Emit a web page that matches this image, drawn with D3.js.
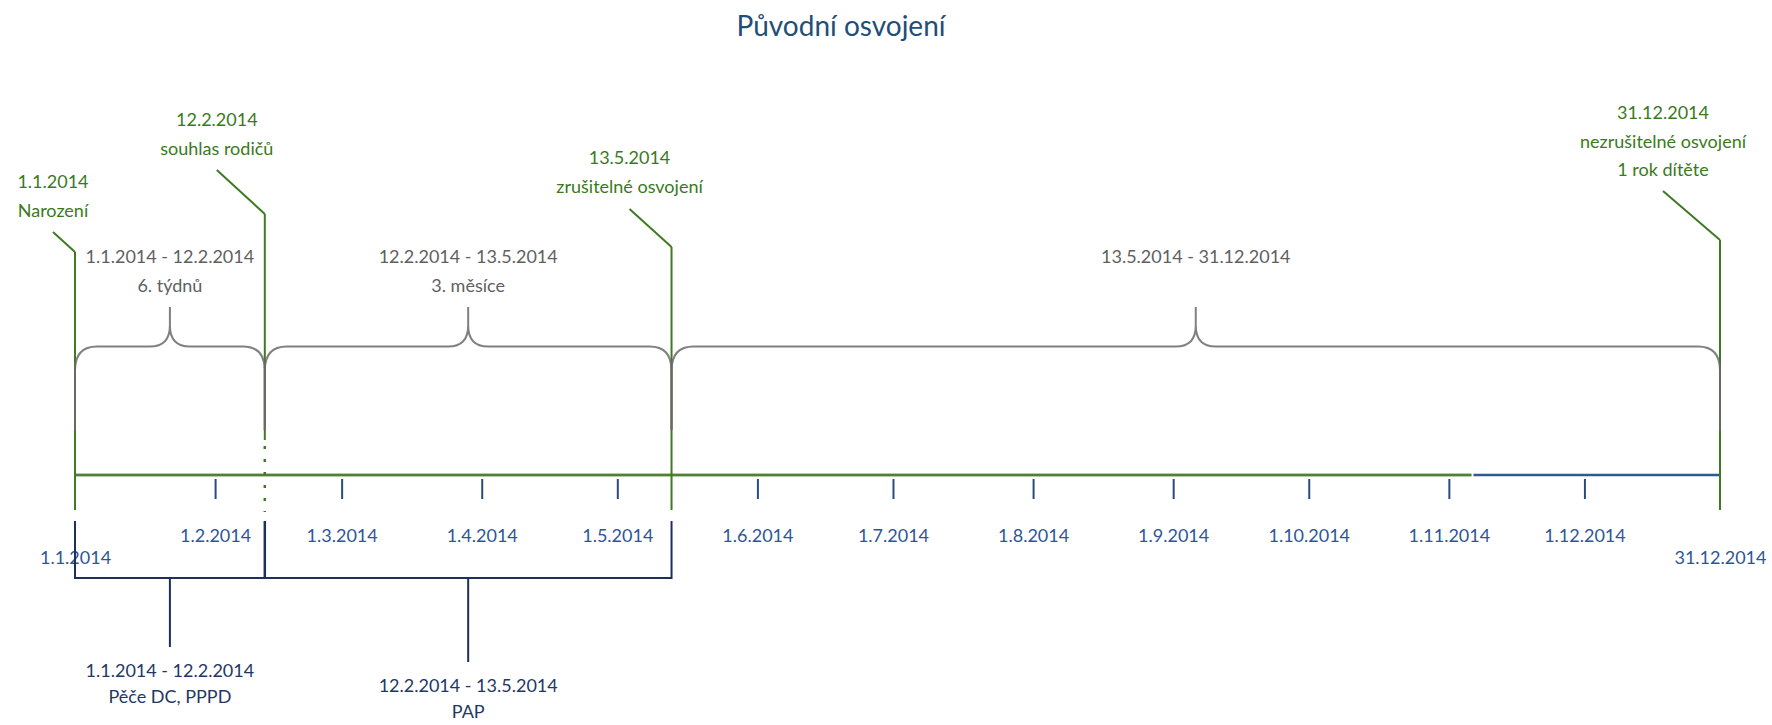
<!DOCTYPE html>
<html>
<head>
<meta charset="utf-8">
<script src="https://cdn.jsdelivr.net/npm/d3@7"></script>
<style>
  body { margin: 0; background: #fff; }
  text { font-family: Lato, "Noto Sans", sans-serif; }
</style>
</head>
<body>
<div id="chart"></div>
<script>
// dates of the events on the time line
var eventDates = ["2014-01-01", "2014-02-12", "2014-05-13", "2014-12-31"];
var eventLabels = [
    ["1.1.2014", "Narození"],
    ["12.2.2014", "souhlas rodičů"],
    ["13.5.2014", "zrušitelné osvojení"],
    ["31.12.2014", "nezrušitelné osvojení", "1 rok dítěte"]
];

// periods above the line (between consecutive events)
var periodLabels = [
    ["1.1.2014 - 12.2.2014", "6. týdnů"],
    ["12.2.2014 - 13.5.2014", "3. měsíce"],
    ["13.5.2014 - 31.12.2014", ""]
];

// periods below the line
var lowerPeriods = [
    ["2014-01-01", "2014-02-12"],
    ["2014-02-12", "2014-05-13"]
];
var lowerLabels = [
    ["1.1.2014 - 12.2.2014", "Pěče DC, PPPD"],
    ["12.2.2014 - 13.5.2014", "PAP"]
];

// month ticks
var tickDates = ["2014-02-01", "2014-03-01", "2014-04-01", "2014-05-01", "2014-06-01", "2014-07-01",
    "2014-08-01", "2014-09-01", "2014-10-01", "2014-11-01", "2014-12-01"];
var tickLabels = ["1.2.2014", "1.3.2014", "1.4.2014", "1.5.2014", "1.6.2014", "1.7.2014",
    "1.8.2014", "1.9.2014", "1.10.2014", "1.11.2014", "1.12.2014"];
var endLabels = ["1.1.2014", "31.12.2014"];

// the line changes from green to blue here
var greenEndDate = "2014-11-06";

var parse = d3.utcParse("%Y-%m-%d");

var width = 1772,
    height = 725;

// label placement for each event (layout only)
var eventLayout = [
    { dx: -22, y: 182, leaderY: 232, topY: 252 },
    { dx: -48, y: 120, leaderY: 170, topY: 214 },
    { dx: -42, y: 158, leaderY: 209, topY: 247 },
    { dx: -57, y: 113, leaderY: 191, topY: 240 }
];

var lineY = 475,
    braceY = 346.5,
    braceTipY = 307,
    lineGap = 28.5;

var green = "#3f7a22",
    labelGreen = "#3a7a1c",
    gray = "#6a6a6a",
    navy = "#1f2f5c",
    blue = "#2e5a8e";

var x = d3.scaleUtc()
    .domain([parse(eventDates[0]), parse(eventDates[eventDates.length - 1])])
    .range([75, 1720]);

var svg = d3.select("#chart").append("svg")
    .attr("width", width)
    .attr("height", height);

// title
svg.append("text")
    .attr("x", 841)
    .attr("y", 36)
    .attr("text-anchor", "middle")
    .attr("fill", "#1f4e79")
    .style("font-size", "28px")
    .text("Původní osvojení");

// main time line
var x0 = x(parse(eventDates[0])),
    xg = x(parse(greenEndDate)),
    x1 = x(parse(eventDates[eventDates.length - 1]));

svg.append("line")
    .attr("x1", x0).attr("x2", xg)
    .attr("y1", lineY).attr("y2", lineY)
    .attr("stroke", "#b5d0a6").attr("stroke-width", 4);
svg.append("line")
    .attr("x1", x0).attr("x2", xg)
    .attr("y1", lineY).attr("y2", lineY)
    .attr("stroke", "#4f8033").attr("stroke-width", 2);
svg.append("line")
    .attr("x1", xg + 2).attr("x2", x1)
    .attr("y1", lineY).attr("y2", lineY)
    .attr("stroke", blue).attr("stroke-width", 2.5);

// month ticks
var axis = svg.append("g")
    .attr("transform", "translate(0," + (lineY + 4) + ")")
    .call(d3.axisBottom(x)
        .tickValues(tickDates.map(parse))
        .tickSizeInner(20)
        .tickSizeOuter(0)
        .tickPadding(30)
        .tickFormat(function(d, i) { return tickLabels[i]; }));
axis.select(".domain").remove();
axis.selectAll(".tick line").attr("stroke", "#2b4a7c").attr("stroke-width", 2);
axis.selectAll(".tick text")
    .attr("fill", "#2f5597")
    .style("font-size", "18px")
    .style("font-family", "Lato, 'Noto Sans', sans-serif");

// first and last date under the line
var endAxis = svg.append("g")
    .attr("transform", "translate(0," + (lineY + 4) + ")")
    .call(d3.axisBottom(x)
        .tickValues([parse(eventDates[0]), parse(eventDates[eventDates.length - 1])])
        .tickSize(0)
        .tickPadding(72)
        .tickFormat(function(d, i) { return endLabels[i]; }));
endAxis.select(".domain").remove();
endAxis.selectAll(".tick text")
    .attr("fill", "#2f5597")
    .style("font-size", "18px")
    .style("font-family", "Lato, 'Noto Sans', sans-serif");

// event vertical lines
eventDates.forEach(function(d, i) {
    var ex = x(parse(d)),
        lay = eventLayout[i];
    if (i == 1) {
        svg.append("line")
            .attr("x1", ex).attr("x2", ex)
            .attr("y1", lay.topY).attr("y2", 440)
            .attr("stroke", green).attr("stroke-width", 2);
        svg.append("line")
            .attr("x1", ex).attr("x2", ex)
            .attr("y1", 446).attr("y2", 512)
            .attr("stroke", green).attr("stroke-width", 2.5)
            .attr("stroke-dasharray", "3,10");
    } else {
        svg.append("line")
            .attr("x1", ex).attr("x2", ex)
            .attr("y1", lay.topY).attr("y2", 510)
            .attr("stroke", green).attr("stroke-width", 2);
    }
    // leader from the label
    svg.append("line")
        .attr("x1", ex + lay.dx).attr("y1", lay.leaderY)
        .attr("x2", ex).attr("y2", lay.topY)
        .attr("stroke", green).attr("stroke-width", 2);

    var t = svg.append("text")
        .attr("text-anchor", "middle")
        .attr("fill", labelGreen)
        .style("font-size", "18px");
    eventLabels[i].forEach(function(s, j) {
        t.append("tspan")
            .attr("x", ex + lay.dx)
            .attr("y", lay.y + j * lineGap)
            .attr("dy", "0.35em")
            .text(s);
    });
});

// curly braces over the periods
function bracePath(a, b) {
    var m = (a + b) / 2, r = 22, rt = 20;
    return "M" + a + ",430 L" + a + "," + (braceY + 24) +
        " Q" + a + "," + braceY + " " + (a + r) + "," + braceY +
        " L" + (m - rt) + "," + braceY +
        " Q" + m + "," + braceY + " " + m + "," + (braceY - 21) +
        " L" + m + "," + braceTipY +
        " M" + m + "," + (braceY - 21) +
        " Q" + m + "," + braceY + " " + (m + rt) + "," + braceY +
        " L" + (b - r) + "," + braceY +
        " Q" + b + "," + braceY + " " + b + "," + (braceY + 24) +
        " L" + b + ",430";
}

periodLabels.forEach(function(p, i) {
    var a = x(parse(eventDates[i])),
        b = x(parse(eventDates[i + 1])),
        m = (a + b) / 2;
    svg.append("path")
        .attr("d", bracePath(a, b))
        .attr("fill", "none")
        .attr("stroke", gray)
        .attr("stroke-opacity", 0.85)
        .attr("stroke-width", 2);
    var t = svg.append("text")
        .attr("text-anchor", "middle")
        .attr("fill", "#5f5f5f")
        .style("font-size", "18px");
    p.forEach(function(s, j) {
        t.append("tspan")
            .attr("x", m)
            .attr("y", 257 + j * 29)
            .attr("dy", "0.35em")
            .text(s);
    });
});

// brackets under the line
var bracketY = 578,
    stemEnds = [647, 662];
var bx = [];
lowerPeriods.forEach(function(p) {
    bx.push(x(parse(p[0])));
});
bx.push(x(parse(lowerPeriods[lowerPeriods.length - 1][1])));

svg.append("line")
    .attr("x1", bx[0]).attr("x2", bx[bx.length - 1])
    .attr("y1", bracketY).attr("y2", bracketY)
    .attr("stroke", navy).attr("stroke-width", 2);
bx.forEach(function(v, i) {
    svg.append("line")
        .attr("x1", v).attr("x2", v)
        .attr("y1", 521).attr("y2", bracketY + 1)
        .attr("stroke", navy).attr("stroke-width", i == 1 ? 2.5 : 2);
});

lowerPeriods.forEach(function(p, i) {
    var m = (x(parse(p[0])) + x(parse(p[1]))) / 2;
    svg.append("line")
        .attr("x1", m).attr("x2", m)
        .attr("y1", bracketY).attr("y2", stemEnds[i])
        .attr("stroke", navy).attr("stroke-width", 2);
    var t = svg.append("text")
        .attr("text-anchor", "middle")
        .attr("fill", "#1f3864")
        .style("font-size", "18px");
    lowerLabels[i].forEach(function(s, j) {
        t.append("tspan")
            .attr("x", m)
            .attr("y", stemEnds[i] + 24 + j * 26)
            .attr("dy", "0.35em")
            .text(s);
    });
});
</script>
</body>
</html>
